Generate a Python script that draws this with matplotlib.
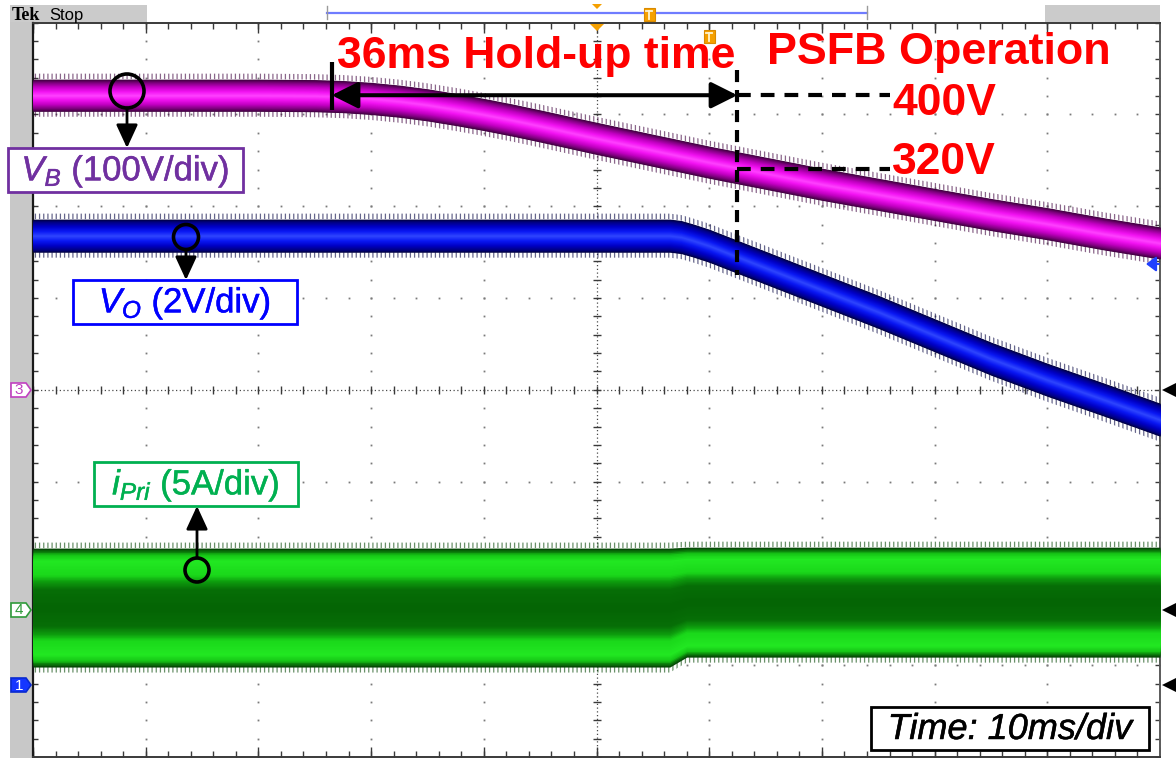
import numpy as np
import matplotlib
matplotlib.use("Agg")
import matplotlib.pyplot as plt
import matplotlib.patheffects as pe
from matplotlib.patches import Rectangle, Circle, Polygon, FancyArrowPatch
from matplotlib.transforms import Affine2D
from matplotlib.colors import LinearSegmentedColormap

plt.rcParams['font.family'] = ['Liberation Sans', 'DejaVu Sans']
plt.rcParams['mathtext.fontset'] = 'custom'
plt.rcParams['mathtext.rm'] = 'Liberation Sans'
plt.rcParams['mathtext.it'] = 'Liberation Sans:italic'
plt.rcParams['mathtext.bf'] = 'Liberation Sans:bold'
plt.rcParams['hatch.linewidth'] = 0.9

# ---------------- scope settings ----------------
TIME_PER_DIV = 10.0      # ms/div
VB_PER_DIV = 100.0       # V/div   (CH3)
VO_PER_DIV = 2.0         # V/div   (CH1)
IP_PER_DIV = 5.0         # A/div   (CH4)
VB_OFFSET = -0.79        # div
VO_OFFSET = -4.32        # div
IP_OFFSET = -2.40        # div

# ---------------- measured traces ----------------
t_vb = [0, 5, 10, 15, 20, 25, 27.5, 30, 32.5, 35, 37.5, 40, 42.5, 45, 50, 55, 60,
        65, 70, 75, 80, 85, 90, 95, 100]
vb = [400, 400, 400, 400, 400, 399.5, 398.5, 396.5, 393.5, 389.5, 384.5, 379, 373,
      366.5, 353, 340, 327, 315, 303, 292, 281, 270, 260, 249, 239]

t_vo = [0, 55, 56.5, 57.5, 58.5, 60, 65, 70, 75, 80, 85, 90, 95, 100]
vo = [12.0, 12.0, 12.0, 11.97, 11.9, 11.78, 11.30, 10.82, 10.34, 9.83, 9.32,
      8.86, 8.43, 7.99]

t_ip = [0, 56.5, 58, 100]
ip_max = [3.38, 3.38, 3.43, 3.43]
ip_min = [-3.10, -3.10, -2.56, -2.56]

HOLDUP_START = 26.5      # ms
HOLDUP_END = 62.5        # ms
VB_NOM = 400             # V
VB_END = 320             # V

W, H = 1176, 758
PX = Affine2D().scale(1, -1).translate(0, H)   # pixel coords, origin top-left

fig = plt.figure(figsize=(W / 100, H / 100), dpi=100)
fig.patch.set_facecolor('white')
ax = fig.add_axes([33 / W, 1 / H, 1127 / W, 734.3 / H])
ax.set_xlim(0, 10 * TIME_PER_DIV)
ax.set_ylim(-4, 4)
ax.set_xticks([])
ax.set_yticks([])
for side, c, lw in [('top', '#3a3a3a', 1.4), ('left', '#1a1a1a', 1.6),
                    ('right', '#5a5a5a', 1.4), ('bottom', '#3a3a3a', 1.4)]:
    ax.spines[side].set_color(c)
    ax.spines[side].set_linewidth(lw)


def ydiv(px_y):
    return (390.0 - px_y) / 91.8


# ---------------- graticule ----------------
sub_y = np.arange(-4, 4.001, 0.2)
sub_x = np.arange(0, 100.001, 2.0)
for xi in [10, 20, 30, 40, 60, 70, 80, 90]:
    ax.plot(np.full(sub_y.size, xi), sub_y, ls='none', marker='s', ms=1.3,
            mec='none', mfc='#7a7a7a', zorder=1)
for yi in [-3, -2, -1, 1, 2, 3]:
    ax.plot(sub_x, np.full(sub_x.size, yi), ls='none', marker='s', ms=1.3,
            mec='none', mfc='#7a7a7a', zorder=1)
# center cross
ax.axvline(50, ls=(0, (1, 2.0)), lw=0.9, color='#4a4a4a', zorder=1)
ax.axhline(0, ls=(0, (1, 2.0)), lw=0.9, color='#4a4a4a', zorder=1)
ax.plot(np.full(sub_y.size, 50), sub_y, ls='none', marker='_', ms=6, mew=1,
        color='#3a3a3a', zorder=1)
ax.plot(sub_x, np.zeros(sub_x.size), ls='none', marker='|', ms=6, mew=1,
        color='#3a3a3a', zorder=1)
# frame ticks
for yv in [4, -4]:
    ax.plot(sub_x, np.full(sub_x.size, yv), ls='none', marker='|', ms=8,
            mew=1, color='#3a3a3a', zorder=1)
    ax.plot(np.arange(0, 101, 10), np.full(11, yv), ls='none', marker='|', ms=14,
            mew=1, color='#3a3a3a', zorder=1)
for xv in [0, 100]:
    ax.plot(np.full(sub_y.size, xv), sub_y, ls='none', marker='_', ms=7, mew=1,
            color='#3a3a3a', zorder=1)


# ---------------- traces (persistence bands) ----------------
def band(t, lo, hi, stops, fringe, n=40, z=3):
    cmap = LinearSegmentedColormap.from_list('band', stops)
    t = np.asarray(t, float)
    lo = np.asarray(lo, float)
    hi = np.asarray(hi, float)
    # comb-like fringe of the persistence display
    for a, b in [(hi, hi + fringe), (lo - fringe, lo)]:
        ax.fill_between(t, a, b, facecolor='none', edgecolor=stops[-1][1],
                        hatch='||||', lw=0, alpha=0.6, zorder=z)
    mid = (lo + hi) / 2
    half = (hi - lo) / 2
    for k in range(n):
        f = 1 - k / n
        ax.fill_between(t, mid - f * half, mid + f * half, color=cmap(f),
                        lw=0, zorder=z)


vb_div = np.asarray(vb) / VB_PER_DIV + VB_OFFSET
vo_div = np.asarray(vo) / VO_PER_DIV + VO_OFFSET
VB_HALF = 0.175
VO_HALF = 0.18

band(t_vb, vb_div - VB_HALF, vb_div + VB_HALF,
     [(0, '#ff44ff'), (0.25, '#f414f4'), (0.55, '#c400c4'),
      (0.8, '#820082'), (1.0, '#3e003e')], fringe=0.06)
band(t_vo, vo_div - VO_HALF, vo_div + VO_HALF,
     [(0, '#3048ff'), (0.3, '#0a18f4'), (0.6, '#0000c4'),
      (0.85, '#000084'), (1.0, '#000040')], fringe=0.06)
band(t_ip, np.asarray(ip_min) / IP_PER_DIV + IP_OFFSET,
     np.asarray(ip_max) / IP_PER_DIV + IP_OFFSET,
     [(0, '#046404'), (0.32, '#066e06'), (0.46, '#0e9e0e'), (0.56, '#1ad81a'),
      (0.8, '#22e822'), (0.9, '#16c816'), (0.96, '#0a780a'), (1.0, '#064806')],
     fringe=0.06)

# ---------------- hold-up annotation ----------------
y_nom = VB_NOM / VB_PER_DIV + VB_OFFSET
y_end = VB_END / VB_PER_DIV + VB_OFFSET
ax.add_patch(FancyArrowPatch((HOLDUP_START, y_nom), (HOLDUP_END, y_nom),
                             arrowstyle='<|-|>,head_length=1.6,head_width=0.8',
                             mutation_scale=10, lw=2.9, color='black',
                             shrinkA=0, shrinkB=0, zorder=6))
ax.plot([HOLDUP_START, HOLDUP_START], [ydiv(62), ydiv(110)], color='black',
        lw=3, solid_capstyle='butt', zorder=6)
ax.plot([HOLDUP_END, HOLDUP_END], [ydiv(70), ydiv(275)], color='black', lw=3,
        dashes=(2.9, 1.9), zorder=6)
x_lbl = (890 - 33) / 11.27
ax.plot([HOLDUP_END, x_lbl], [y_nom, y_nom], color='black', lw=3,
        dashes=(3.3, 2.4), zorder=6)
ax.plot([HOLDUP_END, x_lbl], [y_end, y_end], color='black', lw=3,
        dashes=(3.3, 2.4), zorder=6)

red = '#ff0000'
fig.text(337, 68, f'{HOLDUP_END - HOLDUP_START:.0f}ms Hold-up time', transform=PX,
         fontsize=32, fontweight='bold', color=red, va='baseline', zorder=7)
fig.text(767, 64, 'PSFB Operation', transform=PX, fontsize=32.3,
         fontweight='bold', color=red, va='baseline', zorder=7)
fig.text(892, 115, f'{VB_NOM}V', transform=PX, fontsize=32, fontweight='bold',
         color=red, va='baseline', zorder=7)
fig.text(892, 174, f'{VB_END}V', transform=PX, fontsize=32, fontweight='bold',
         color=red, va='baseline', zorder=7)


# ---------------- channel labels ----------------
def label_box(x0, y0, x1, y1, text, color, **kw):
    fig.add_artist(Rectangle((x0, y0), x1 - x0, y1 - y0, transform=PX,
                             fc='white', ec=color, lw=2.0, zorder=8))
    fig.text((x0 + x1) / 2, (y0 + y1) / 2 + 1, text, transform=PX, color=color,
             ha='center', va='center', zorder=9,
             path_effects=[pe.withStroke(linewidth=0.35, foreground=color)], **kw)


def probe(cx, cy, r, tip_y, start_y):
    fig.add_artist(Circle((cx, cy), r, transform=PX, fc='none', ec='black',
                          lw=2.6, zorder=8))
    fig.add_artist(FancyArrowPatch((cx, start_y), (cx, tip_y), transform=PX,
                                   arrowstyle='-|>,head_length=1.3,head_width=0.6',
                                   mutation_scale=11, lw=2.0, color='black',
                                   shrinkA=0, shrinkB=0, zorder=8))


label_box(8, 148, 243, 192, r'$V_B$ (100V/div)', '#7030a0', fontsize=25)
label_box(73, 280, 297, 324, r'$V_O$ (2V/div)', '#0000ff', fontsize=25)
label_box(94, 462, 298, 506, r'$i_{Pri}$ (5A/div)', '#00b050', fontsize=25)
label_box(871, 707, 1149, 750, 'Time: 10ms/div', 'black', fontsize=26,
          fontstyle='italic')
probe(127, 91, 17, 148, 108)
probe(186, 237, 12.5, 280, 249.5)
probe(197, 570, 12, 506, 558)

# ---------------- screen furniture ----------------
fig.add_artist(Rectangle((10, 22), 23, 736, transform=PX, fc='#c8c8c8', ec='none',
                         zorder=-1))
fig.add_artist(Rectangle((10, 5), 137, 17, transform=PX, fc='#cbcbcb', ec='none',
                         zorder=-1))
fig.add_artist(Rectangle((1045, 5), 115, 17, transform=PX, fc='#cbcbcb', ec='none',
                         zorder=-1))
fig.text(12, 20, 'Tek', transform=PX, fontsize=13, fontweight='bold',
         family='Liberation Serif', va='baseline', color='black')
fig.text(49, 20, 'Stop', transform=PX, fontsize=12, va='baseline', color='black')

fig.add_artist(plt.Line2D([327, 867], [12.5, 12.5], transform=PX, color='#6f7cff',
                          lw=1.6))
for xb in [327, 867]:
    fig.add_artist(plt.Line2D([xb, xb], [6, 19], transform=PX, color='#9a9a9a',
                              lw=1.0))
orange = '#f5a000'
fig.add_artist(Polygon([(592, 4), (602, 4), (597, 9)], transform=PX, fc=orange,
                       ec='none'))
fig.add_artist(Polygon([(590, 24), (604, 24), (597, 31)], transform=PX, fc=orange,
                       ec='none', zorder=5))
# trigger markers: small orange boxes with a "T" glyph
for (bx, by) in [(649, 15), (709, 37)]:
    fig.add_artist(Rectangle((bx - 5.5, by - 7), 11, 13, transform=PX, fc=orange,
                             ec='#d98a00', lw=0.8, zorder=5))
    fig.add_artist(plt.Line2D([bx - 3, bx + 3], [by - 4, by - 4], transform=PX,
                              color='#fff4d0', lw=1.3, zorder=6))
    fig.add_artist(plt.Line2D([bx, bx], [by - 4, by + 4], transform=PX,
                              color='#fff4d0', lw=1.3, zorder=6))


def ch_tag(y, num, edge, face, txt):
    fig.add_artist(Polygon([(11, y - 7), (26, y - 7), (31, y), (26, y + 7), (11, y + 7)],
                           transform=PX, fc=face, ec=edge, lw=1.2, zorder=5))
    fig.text(19, y + 0.5, num, transform=PX, fontsize=11, color=txt, ha='center',
             va='center', zorder=6)


ch_tag(390, '3', '#c040c0', 'white', '#c040c0')
ch_tag(610, '4', '#2f9a3a', 'white', '#2f9a3a')
ch_tag(685, '1', '#0a2ad0', '#1536ff', 'white')

for yr in [390, 610, 685]:
    fig.add_artist(Polygon([(1176, yr - 7), (1176, yr + 7), (1162, yr)],
                           transform=PX, fc='black', ec='none', zorder=5))
fig.add_artist(FancyArrowPatch((1159, 264), (1146, 264), transform=PX,
                               arrowstyle='-|>,head_length=0.6,head_width=0.45',
                               mutation_scale=10, lw=1.5, color='#2040ff',
                               shrinkA=0, shrinkB=0, zorder=6))

fig.savefig('out.png', dpi=100, facecolor='white')
